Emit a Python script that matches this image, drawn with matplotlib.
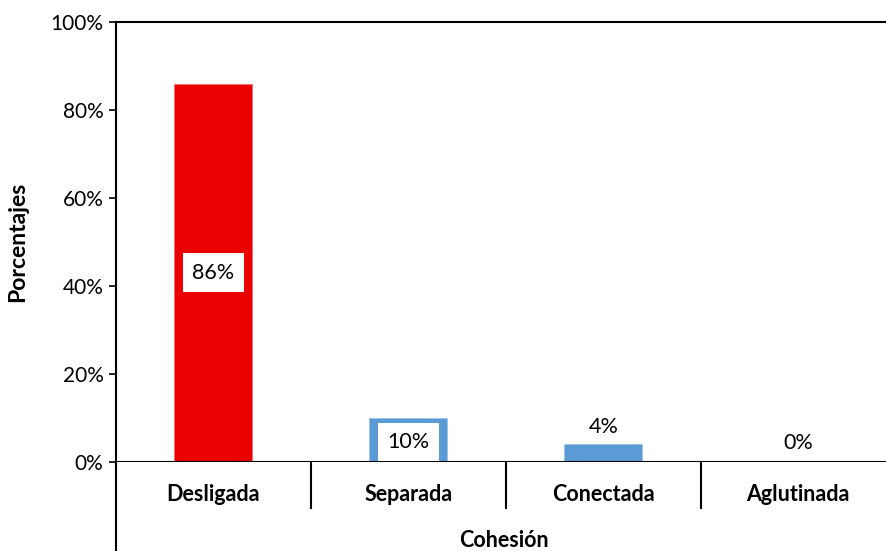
import matplotlib.pyplot as plt
from matplotlib.lines import Line2D
from matplotlib.ticker import FuncFormatter

plt.rcParams['font.family'] = ['Lato', 'DejaVu Sans']

categorias = ['Desligada', 'Separada', 'Conectada', 'Aglutinada']
porcentajes = [86, 10, 4, 0]
colores = ['#EA0000', '#5B9BD5', '#5B9BD5', '#5B9BD5']

fig = plt.figure(figsize=(8.86, 5.51), dpi=100)
ax = fig.add_axes([116 / 886, (551 - 462) / 551, (886 - 116) / 886, 440 / 551])

x = range(len(categorias))
bars = ax.bar(x, porcentajes, width=0.4, color=colores, edgecolor='#9DC3E6', linewidth=0.6)
bars[0].set_edgecolor('#F26B6B')

ax.set_ylim(0, 100)
ax.set_xlim(-0.5, 3.45)
ax.set_yticks(range(0, 101, 20))
ax.yaxis.set_major_formatter(FuncFormatter(lambda v, p: '%d%%' % v))
ax.tick_params(axis='y', length=5, width=1.2, labelsize=15, pad=4)
ax.tick_params(axis='x', length=0, labelbottom=False)

for s in ['right', 'bottom']:
    ax.spines[s].set_visible(False)
ax.spines['left'].set_linewidth(1.5)
ax.spines['top'].set_linewidth(1.5)
ax.axhline(0, color='black', lw=1.5, zorder=3)

# left axis continues down through the category band
tr = ax.get_xaxis_transform()
ax.add_line(Line2D([-0.5, -0.5], [0, -0.21], transform=tr, color='black', lw=1.5, clip_on=False))
for i in range(1, len(categorias)):
    ax.add_line(Line2D([i - 0.5, i - 0.5], [0, -0.105], transform=tr, color='black', lw=1.5, clip_on=False))

for i, c in enumerate(categorias):
    ax.text(i, -0.073, c, transform=tr, ha='center', va='center', fontsize=15.5, fontweight='bold')

ax.text(1.49, -0.178, 'Cohesión', transform=tr, ha='center', va='center', fontsize=15.5, fontweight='bold')
fig.text(18 / 886, 1 - 242 / 551, 'Porcentajes', rotation=90, ha='center', va='center',
         fontsize=16.5, fontweight='bold')

# data labels
ax.text(0, porcentajes[0] / 2, '%d%%' % porcentajes[0], ha='center', va='center', fontsize=15.5,
        bbox=dict(facecolor='white', edgecolor='none', pad=7))
ax.text(1, porcentajes[1] / 2 - 0.5, '%d%%' % porcentajes[1], ha='center', va='center', fontsize=15.5,
        bbox=dict(facecolor='white', edgecolor='none', pad=6.5))
ax.text(2, porcentajes[2] + 1.6, '%d%%' % porcentajes[2], ha='center', va='bottom', fontsize=15.5)
ax.text(3, porcentajes[3] + 2.0, '%d%%' % porcentajes[3], ha='center', va='bottom', fontsize=15.5)

fig.savefig('out.png', dpi=100)
